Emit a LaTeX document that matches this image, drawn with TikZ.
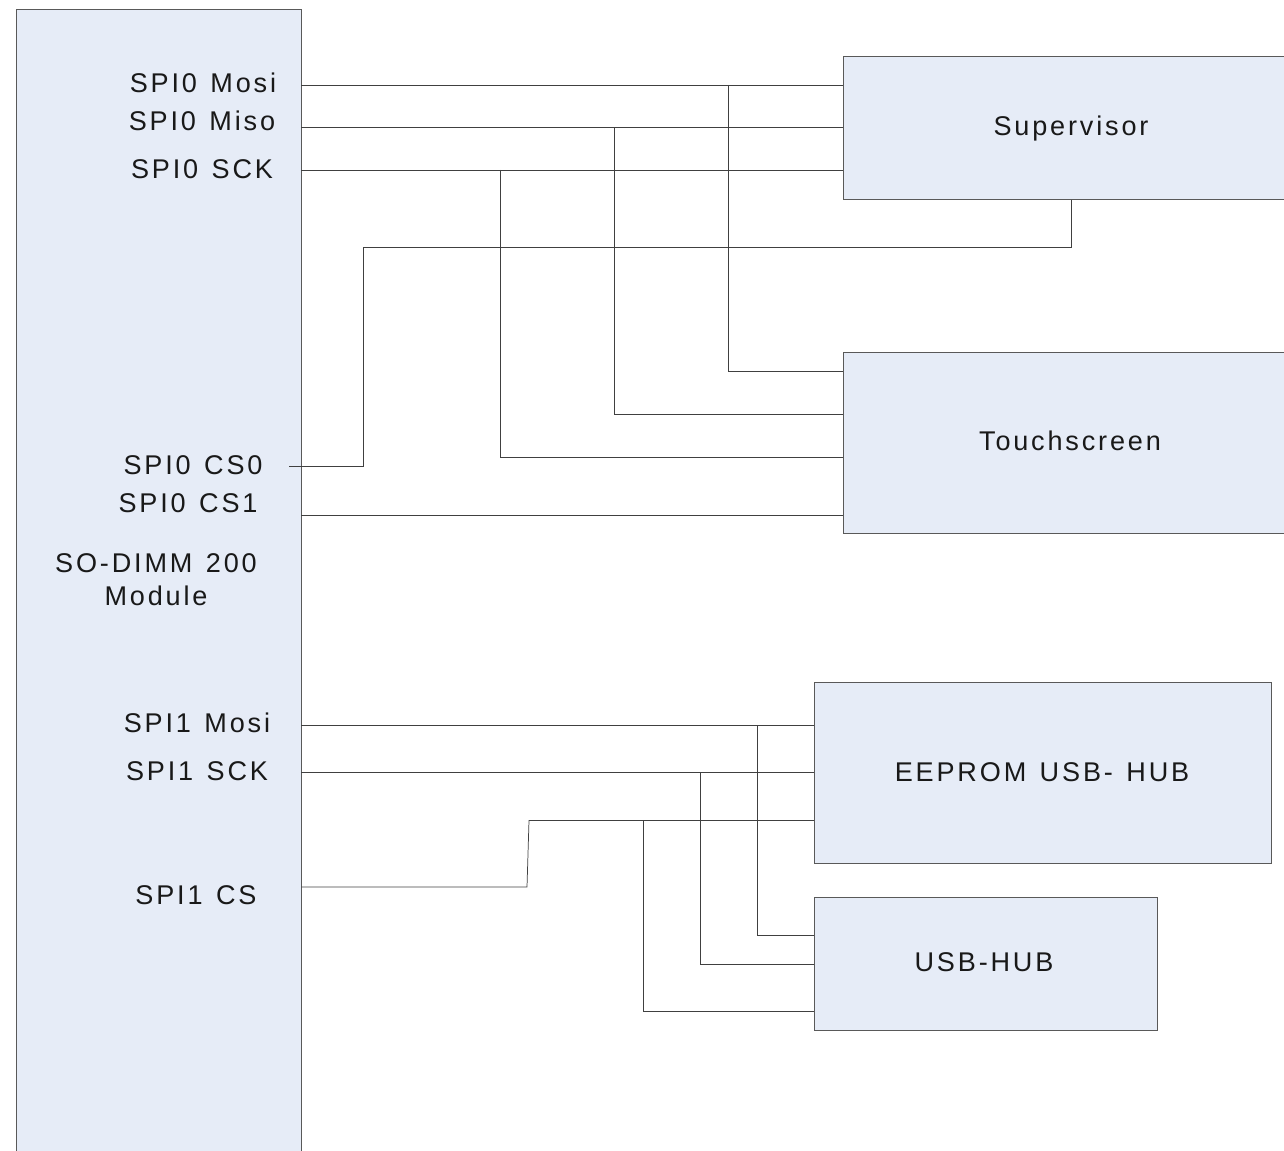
\documentclass[tikz,border=0pt]{standalone}
\usepackage{fontspec}
\setmainfont{Liberation Sans}
\newfontfamily\labfont[LetterSpace=10.5,WordSpace=1.3]{Liberation Sans}
\definecolor{boxfill}{RGB}{230,236,247}
\tikzset{
  x=0.02cm,y=-0.02cm,
  blockbox/.style={draw=black!65,fill=boxfill,line width=0.45pt,inner sep=0pt},
  wire/.style={draw=black!75,line width=0.42pt,line join=miter},
  lab/.style={inner sep=0pt,anchor=base,text=black!90,font=\labfont\fontsize{15.4}{18}\selectfont},
}
\begin{document}
\begin{tikzpicture}
\useasboundingbox (0,0) rectangle (1284,1151);
% blocks
\node[blockbox,minimum width=5.7cm,minimum height=23.02cm] (module) at (158.5,584.4) {};
\node[blockbox,minimum width=9.14cm,minimum height=2.86cm] (sup) at (1071.5,127.9) {};
\node[blockbox,minimum width=9.14cm,minimum height=3.62cm] (touch) at (1071.5,442.9) {};
\node[blockbox,minimum width=9.14cm,minimum height=3.62cm] (eeprom) at (1042.9,772.9) {};
\node[blockbox,minimum width=6.86cm,minimum height=2.66cm] (usb) at (985.9,963.9) {};
% labels
\node[lab] (lsup) at (1071,136) {Supervisor};
\node[lab] (ltouch) at (1070,451) {Touchscreen};
\node[lab] (leeprom) at (1042,781) {EEPROM USB- HUB};
\node[lab] (lusb) at (984,971) {USB-HUB};
\node[lab] (l0mosi) at (203,93) {SPI0 Mosi};
\node[lab] (l0miso) at (202,131) {SPI0 Miso};
\node[lab] (l0sck) at (202,179) {SPI0 SCK};
\node[lab] (l0cs0) at (193,475) {SPI0 CS0};
\node[lab] (l0cs1) at (188,513) {SPI0 CS1};
\node[lab] (lmod1) at (156,573) {SO-DIMM 200};
\node[lab] (lmod2) at (156,605) {Module};
\node[lab] (l1mosi) at (197,732) {SPI1 Mosi};
\node[lab] (l1sck) at (197,780) {SPI1 SCK};
\node[lab] (l1cs) at (196,904) {SPI1 CS};
% ports on the module
\coordinate (pmosi) at (module.east |- 0,85);
\coordinate (pmiso) at (module.east |- 0,127.7);
\coordinate (psck) at (module.east |- 0,170);
\coordinate (pcs0) at (289,466.5);
\coordinate (pcs1) at (module.east |- 0,515);
\coordinate (qmosi) at (module.east |- 0,725);
\coordinate (qsck) at (module.east |- 0,772);
\coordinate (qcs) at (module.east |- 0,887);
% SPI0 to Supervisor, with branches to Touchscreen
\draw[wire] (pmosi) -- (sup.west |- pmosi);
\draw[wire] (pmiso) -- (sup.west |- pmiso);
\draw[wire] (psck) -- (sup.west |- psck);
\coordinate (jmosi) at (728,85);
\coordinate (jmiso) at (614,127.7);
\coordinate (jsck) at (500,170);
\coordinate (tmosi) at (touch.west |- 0,371);
\coordinate (tmiso) at (touch.west |- 0,414.3);
\coordinate (tsck) at (touch.west |- 0,457);
\draw[wire] (jmosi) |- (tmosi);
\draw[wire] (jmiso) |- (tmiso);
\draw[wire] (jsck) |- (tsck);
% chip selects
\coordinate (csup) at (1071,247);
\coordinate (cmid) at (363,247);
\coordinate (cdrop) at (363,466.5);
\draw[wire] (sup.south -| csup) -- (csup) -- (cmid) -- (cdrop) -- (pcs0);
\draw[wire] (pcs1) -- (touch.west |- pcs1);
% SPI1 to EEPROM, with branches to USB-HUB
\draw[wire] (qmosi) -- (eeprom.west |- qmosi);
\draw[wire] (qsck) -- (eeprom.west |- qsck);
\coordinate (kmosi) at (757,725);
\coordinate (ksck) at (700,772);
\coordinate (kcs) at (643,820.5);
\coordinate (umosi) at (usb.west |- 0,935);
\coordinate (usck) at (usb.west |- 0,964);
\coordinate (ucs) at (usb.west |- 0,1011);
\draw[wire] (kmosi) |- (umosi);
\draw[wire] (ksck) |- (usck);
\draw[wire] (kcs) |- (ucs);
\coordinate (bend1) at (527,887);
\coordinate (bend2) at (529,820.5);
\draw[wire] (qcs) -- (bend1) -- (bend2) -- (eeprom.west |- bend2);
\end{tikzpicture}
\end{document}
